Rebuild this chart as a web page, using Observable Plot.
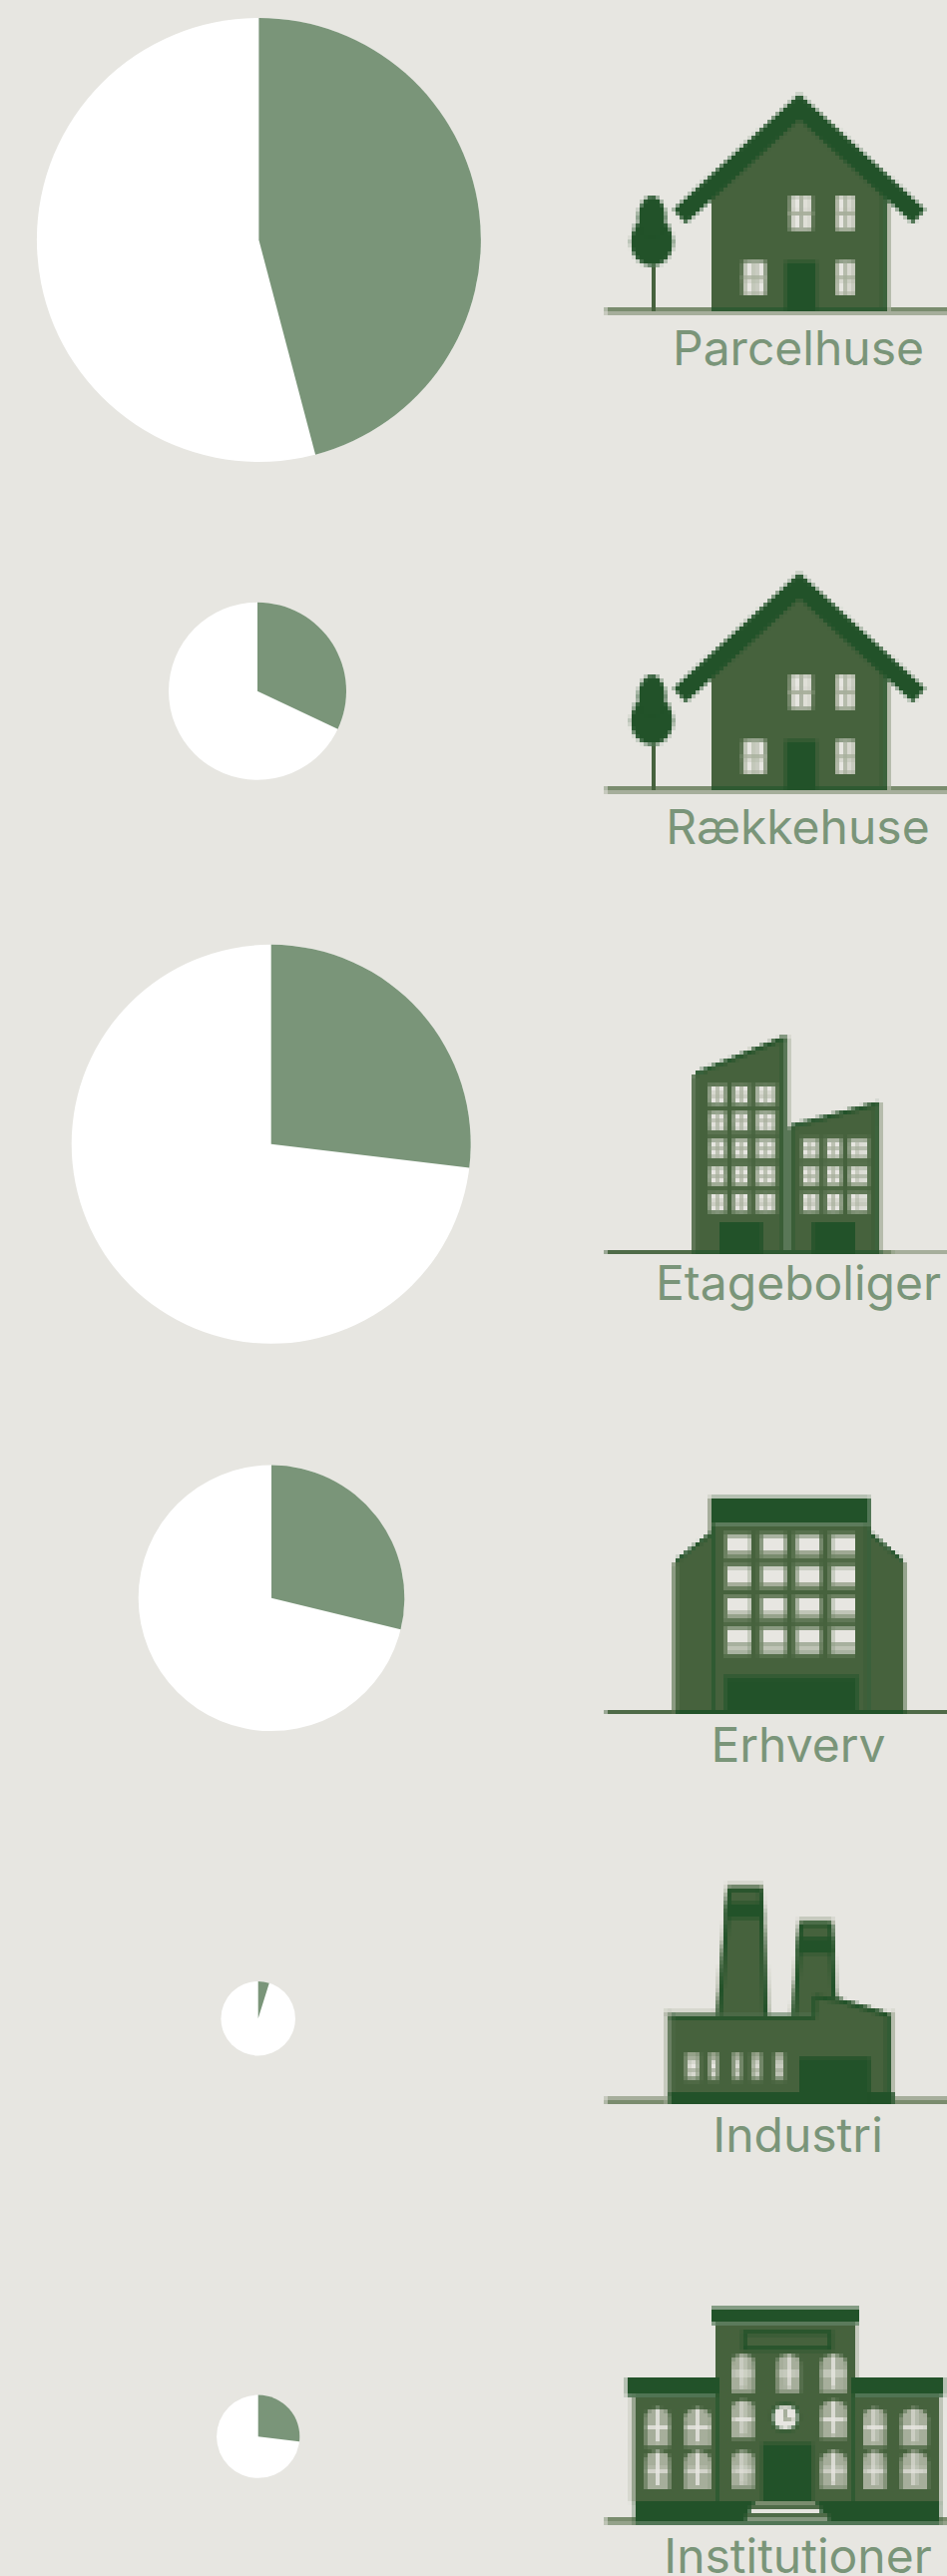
<!DOCTYPE html>
<html><head><meta charset="utf-8">
<script src="https://cdn.jsdelivr.net/npm/d3@7"></script>
<script src="https://cdn.jsdelivr.net/npm/@observablehq/plot@0.6"></script>
<style>html,body{margin:0;padding:0;background:#e7e6e1}svg{display:block}</style>
</head><body><div id="chart"></div>
<script>
// values
const categories = ["Parcelhuse","Rækkehuse","Etageboliger","Erhverv","Industri","Institutioner"];
const shares = [45.9, 32.0, 26.9, 28.8, 4.8, 26.9];   // green slice, percent of the circle
const totals = [100, 16, 80.8, 35.9, 2.8, 3.5];       // circle area, relative

// layout (page pixels)
const pieX = [258.9, 257.5, 271.2, 271.5, 258.2, 258.2];
const pieY = [240, 692.3, 1146.3, 1601.3, 2022.7, 2441.7];
const labelX = [799.5, 799, 799.5, 799.5, 799, 799];
const labelY = [365, 845.7, 1302.7, 1765.7, 2156, 2578];
const iconTop = [71, 551, 1000, 1481, 1872, 2290];
const iconCells = [80, 80, 85, 75, 70, 73];
const iconKind = ["house","house","flats","office","factory","school"];

const BG="#e7e6e1", SLICE="#7a9579", BODY="#46623d", DARK="#225229", MID="#2f5a32",
      GREY="#a6ae9b", SOFT="#7a8c6e", FRAME="#6b8060", MOSS="#4f6b48";

function makeIcon(cells, originX, originY, draw){
  const c = document.createElement("canvas");
  c.width = 90; c.height = cells;
  const g = c.getContext("2d");
  g.setTransform(1/12,0,0,1/12,-originX/12,-originY/12);
  const R=(col,x0,y0,x1,y1)=>{g.fillStyle=col;g.fillRect(x0,y0,x1-x0,y1-y0)};
  const P=(col,pts)=>{g.fillStyle=col;g.beginPath();pts.forEach((p,i)=>i?g.lineTo(p[0],p[1]):g.moveTo(p[0],p[1]));g.closePath();g.fill()};
  const L=(col,w,pts)=>{g.strokeStyle=col;g.lineWidth=w;g.lineJoin="miter";g.beginPath();pts.forEach((p,i)=>i?g.lineTo(p[0],p[1]):g.moveTo(p[0],p[1]));g.stroke()};
  draw(g,R,P,L);
  return c.toDataURL("image/png");
}

function paneWindow(R,x0,y0,x1,y1){
  R(FRAME,x0,y0,x1,y1);
  R(BG,x0+9,y0+9,x1-9,y1-9);
  const mx=(x0+x1)/2, my=(y0+y1)/2;
  R(GREY,mx-4,y0+8,mx+4,y1-8);
  R(GREY,x0+8,my-4,x1-8,my+4);
}

const icons = {
  house: makeIcon(80,6,3,(g,R,P,L)=>{
    R(SOFT,48,711,1090,723); R(GREY,48,723,1090,735);
    R(GREY,891,385,903,723);
    P(BODY,[[366,723],[366,370],[630,125],[891,370],[891,723]]);
    R(MID,879,370,891,723); R(MID,366,711,891,723);
    L(DARK,56,[[270,438],[630,108],[990,438]]);
    [[600,376,669,480],[738,376,798,480],[459,573,530,675],[738,573,798,675]].forEach(w=>{
      R(GREY,w[0],w[1],w[2],w[3]); R(BG,w[0]+10,w[1]+3,w[2]-6,w[3]-6);
      const mx=(w[0]+w[2])/2, my=(w[1]+w[3])/2;
      R(GREY,mx-3,w[1],mx+9,w[3]); R(GREY,w[0],my-6,w[2],my+6);
    });
    R(DARK,588,573,681,723);
    R(BODY,186,585,198,723);
    g.fillStyle=DARK;
    g.beginPath();g.ellipse(187,515,64,74,0,0,7);g.fill();
    g.beginPath();g.ellipse(187,440,42,64,0,0,7);g.fill();
  }),
  flats: makeIcon(85,6,0,(g,R,P,L)=>{
    R(MOSS,48,756,320,768); R(SOFT,878,756,915,768); R(GREY,915,756,1090,768);
    R(GREY,588,115,600,768); R(GREY,867,312,879,768);
    P(BODY,[[310,230],[578,115],[588,115],[588,768],[310,768]]);
    P(BODY,[[600,388],[858,312],[867,312],[867,768],[600,768]]);
    R(MOSS,310,230,322,768);
    L(DARK,12,[[318,226],[588,118]]); L(DARK,12,[[606,384],[867,316]]);
    R(MID,576,120,588,768); R(MID,600,390,612,768); R(MID,855,318,867,768);
    R(MID,310,756,878,768);
    [354,426,495].forEach((x,i)=>[255,335,417,498,579].forEach(y=>paneWindow(R,x,y,[414,483,563][i],y+68)));
    [633,705,774].forEach((x,i)=>[417,498,579].forEach(y=>paneWindow(R,x,y,[693,762,842][i],y+68)));
    R(DARK,390,672,519,768); R(DARK,669,672,798,768);
  }),
  office: makeIcon(75,6,3,(g,R,P,L)=>{
    R(MOSS,48,699,1090,711);
    R(GREY,354,60,366,165);
    P(BODY,[[253,258],[366,165],[366,711],[253,711]]);
    P(BODY,[[843,165],[948,258],[948,711],[843,711]]);
    L(DARK,12,[[258,252],[366,168]]); L(DARK,12,[[843,168],[943,252]]);
    R(FRAME,253,258,262,711);
    R(BODY,366,140,843,711);
    R(DARK,366,60,843,140);
    R(MID,366,140,378,711); R(MID,831,140,843,711);
    const xs=[402,507,612,717], ys=[165,258,351,444];
    xs.forEach(x=>ys.forEach((y,j)=>{
      R(FRAME,x,y,x+81,y+(j==3?92:81));
      R(BG,x+12,y+12,x+81,y+57); R(GREY,x+12,y+57,x+81,y+(j==3?68:69));
      if(j==3) R(BG,x+12,y+68,x+81,y+81);
    }));
    R(MID,402,594,810,711); R(DARK,414,606,798,711);
    R(DARK,260,699,948,711);
  }),
  factory: makeIcon(70,6,6,(g,R,P,L)=>{
    R(GREY,48,690,240,702); R(SOFT,48,702,240,714);
    R(GREY,903,690,1090,702); R(SOFT,903,702,1090,714);
    R(GREY,228,435,400,447); R(GREY,228,435,240,714); R(GREY,903,435,915,714);
    const stack=(tx0,tx1,bx0,bx1,ty,bandY)=>{
      P(GREY,[[tx0-2,ty-12],[tx1+2,ty-12],[bx1+8,447],[bx0-8,447]]);
      P(BODY,[[tx0,ty],[tx1,ty],[bx1,447],[bx0,447]]);
      L(DARK,12,[[bx0+6,447],[tx0+6,ty+6],[tx1-6,ty+6],[bx1-6,447]]);
      P(DARK,[[tx0-3,bandY],[tx1+3,bandY],[tx1+5,bandY+48],[tx0-5,bandY+48]]);
    };
    stack(414,519,384,534,63,108);
    stack(630,729,610,742,168,213);
    const shape=[[240,447],[682,447],[682,385],[750,397],[903,441],[903,714],[240,714]];
    P(BODY,shape);
    L(DARK,12,[[246,453],[676,453],[676,391],[750,403],[897,447],[897,714]]);
    R(DARK,240,447,252,460); R(MOSS,240,453,252,690);
    R(DARK,240,678,915,714);
    R(DARK,630,573,843,714);
    [[285,333],[354,390],[426,459],[483,519],[552,588]].forEach(w=>{
      R(FRAME,w[0],561,w[1],645);
      R(GREY,w[0]+6,561,w[1]-6,633);
      R(BG,w[0]+12,585,w[1]-12,609); R(BG,w[0]+12,621,w[1]-12,633);
    });
  }),
  school: makeIcon(73,6,0,(g,R,P,L)=>{
    R(SOFT,48,696,140,717); R(SOFT,1050,696,1090,717);
    R(GREY,123,332,135,650);
    R(BODY,135,332,1053,650);
    R(BODY,378,114,798,650);
    R(GREY,798,114,804,276);
    R(DARK,366,66,810,114);
    R(DARK,459,135,729,195); R(BODY,471,147,717,183);
    R(DARK,111,276,390,332); R(DARK,786,276,1065,332);
    R(MID,378,332,390,650); R(MID,786,332,798,650);
    const arch=(x0,x1,y0,y1)=>{
      const r=(x1-x0)/2, mx=(x0+x1)/2;
      g.fillStyle=GREY; g.beginPath();
      g.moveTo(x0,y1); g.lineTo(x0,y0+r*0.8);
      g.quadraticCurveTo(x0,y0,mx,y0); g.quadraticCurveTo(x1,y0,x1,y0+r*0.8);
      g.lineTo(x1,y1); g.closePath(); g.fill();
      R(BG,mx-5,y0+2,mx+5,y1-12); R(BG,x0+4,(y0+y1)/2-5,x1-4,(y0+y1)/2+5);
    };
    [[426,495],[563,632],[694,773]].forEach((c,i)=>{
      arch(c[0],c[1],208,320);
      if(i!=1){arch(c[0],c[1],345,460);arch(c[0],c[1],498,610);}
    });
    [[168,240],[285,365],[822,890],[936,1016]].forEach(c=>{
      arch(c[0],c[1],368,482); arch(c[0],c[1],498,612);
    });
    g.fillStyle=MID; g.beginPath(); g.arc(588,395,44,0,7); g.fill();
    g.fillStyle=BG; g.beginPath(); g.arc(588,395,36,0,7); g.fill();
    R(GREY,582,368,594,400); R(GREY,582,396,610,406);
    R(DARK,519,474,669,648);
    R(DARK,135,648,1053,717);
    R(SOFT,495,648,681,660);
    R(MOSS,483,660,693,672); R(BG,483,672,693,684);
    R(MOSS,471,684,717,696); R(GREY,471,696,717,705);
  })
};

const rows = categories.map((name,i)=>({
  name, share:shares[i], total:totals[i],
  cx:pieX[i], cy:pieY[i], lx:labelX[i], ly:labelY[i],
  src:icons[iconKind[i]],
  ix:772, iy:iconTop[i]+iconCells[i]*2, ih:iconCells[i]*4
}));

const slice = share => ({
  draw(ctx,size){
    const r=Math.sqrt(size/Math.PI), a=-Math.PI/2;
    ctx.moveTo(0,0);
    ctx.lineTo(0,-r);
    ctx.arc(0,0,r,a,a+2*Math.PI*share/100);
    ctx.closePath();
  }
});

const chart = Plot.plot({
  width:949, height:2582,
  marginTop:0, marginRight:0, marginBottom:0, marginLeft:0,
  x:{domain:[0,949], range:[0,949], axis:null},
  y:{domain:[0,2582], range:[0,2582], axis:null},
  r:{type:"sqrt", domain:[0,100], range:[0,222.5]},
  style:{background:"transparent", overflow:"hidden"},
  marks:[
    Plot.dot(rows,{x:"cx",y:"cy",r:"total",fill:"#fff",stroke:null}),
    ...rows.map(d=>Plot.dot([d],{x:"cx",y:"cy",r:"total",fill:SLICE,stroke:null,symbol:slice(d.share)})),
    Plot.image(rows,{x:"ix",y:"iy",src:"src",width:360,height:"ih",imageRendering:"pixelated"}),
    Plot.text(rows,{x:"lx",y:"ly",text:"name",fill:SLICE,fontFamily:"Inter",fontSize:48,fontWeight:400,lineAnchor:"bottom",textAnchor:"middle"})
  ]
});
document.getElementById("chart").appendChild(chart);
</script>
</body></html>
